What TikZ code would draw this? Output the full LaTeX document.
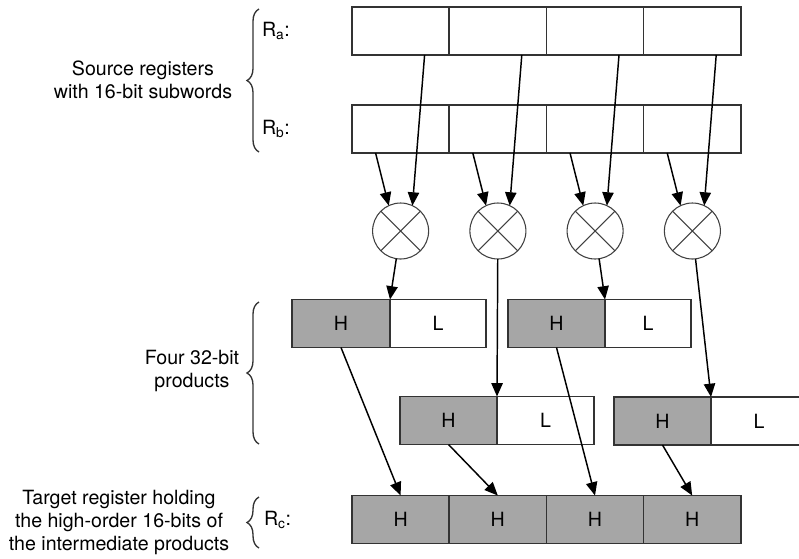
\documentclass[tikz,border=0pt]{standalone}
\usepackage{fontspec}
\setmainfont{TeX Gyre Heros}
\usetikzlibrary{positioning,arrows.meta,decorations.pathreplacing}
\begin{document}
\begin{tikzpicture}[x=0.75pt,y=-0.75pt,every node/.style={inner sep=0pt,outer sep=0pt},font=\fontsize{14.7}{17.25}\selectfont]
\tikzstyle{reg}=[draw=black!80,line width=1.1pt,minimum width=72.9pt,minimum height=36pt]
\tikzstyle{hi}=[reg,fill=black!35]
\tikzstyle{mul}=[draw=black!75,line width=0.8pt,circle,minimum size=42pt]
\tikzstyle{cross}=[draw=black!75,line width=0.8pt]
\tikzstyle{arrow}=[draw,line width=1.1pt,-{Triangle[length=10pt,width=8.5pt]}]
\tikzstyle{brc}=[draw=black!80,line width=1pt,decorate,decoration={brace,amplitude=9pt}]
\useasboundingbox (0,0) rectangle (799,558);

% source registers
\node[reg](ra1) at (400.6,31){};
\node[reg,right=0pt of ra1](ra2){};
\node[reg,right=0pt of ra2](ra3){};
\node[reg,right=0pt of ra3](ra4){};

\node[reg](rb1) at (400.6,129){};
\node[reg,right=0pt of rb1](rb2){};
\node[reg,right=0pt of rb2](rb3){};
\node[reg,right=0pt of rb3](rb4){};

% multipliers
\node[mul](m1) at (400.6,231){};
\node[mul](m2) at (497.9,231){};
\node[mul](m3) at (595.1,231){};
\node[mul](m4) at (692.4,231){};
\path[cross](m1.45)--(m1.225)(m1.135)--(m1.315);
\path[cross](m2.45)--(m2.225)(m2.135)--(m2.315);
\path[cross](m3.45)--(m3.225)(m3.135)--(m3.315);
\path[cross](m4.45)--(m4.225)(m4.135)--(m4.315);

% 32-bit products
\node[hi,minimum width=73.5pt](h1) at (341,323.5){H};
\node[reg,right=0pt of h1,minimum width=72pt](l1){L};
\node[hi,minimum width=72.75pt](h3) at (556.5,323.5){H};
\node[reg,right=0pt of h3,minimum width=64.5pt](l3){L};
\node[hi,minimum width=72.75pt](h2) at (448.5,420.5){H};
\node[reg,right=0pt of h2,minimum width=72.75pt](l2){L};
\node[hi,minimum width=72.75pt](h4) at (662.5,421){H};
\node[reg,right=0pt of h4,minimum width=72pt](l4){L};

% target register
\node[hi](rc1) at (400.6,519.5){H};
\node[hi,right=0pt of rc1](rc2){H};
\node[hi,right=0pt of rc2](rc3){H};
\node[hi,right=0pt of rc3](rc4){H};

\path[arrow]([xshift=-18.75pt]rb1.south)--(m1.115);
\path[arrow]([xshift=18pt]ra1.south)--(m1.65);
\path[arrow]([xshift=-18.75pt]rb2.south)--(m2.115);
\path[arrow]([xshift=18pt]ra2.south)--(m2.65);
\path[arrow]([xshift=-18.75pt]rb3.south)--(m3.115);
\path[arrow]([xshift=18pt]ra3.south)--(m3.65);
\path[arrow]([xshift=-18.75pt]rb4.south)--(m4.115);
\path[arrow]([xshift=18pt]ra4.south)--(m4.65);

\path[arrow](m1)--(h1.north east);
\path[arrow](m2)--(h2.north east);
\path[arrow](m3)--(h3.north east);
\path[arrow](m4)--(h4.north east);

\path[arrow](h1.south)--(rc1.north);
\path[arrow](h2.south)--(rc2.north);
\path[arrow](h3.south)--(rc3.north);
\path[arrow](h4.south)--(rc4.north);

% labels
\node[anchor=west](lra) at (262,31){R\textsubscript{a}:};
\node[anchor=west](lrb) at (262,129){R\textsubscript{b}:};
\node[anchor=west](lrc) at (264,520){R\textsubscript{c}:};
\path[brc](259,152)--(259,9);
\path[brc](259,444)--(259,302);
\path[brc](259,548)--(259,497);
\node[align=center](src) at (143,80){Source registers\\with 16-bit subwords};
\node[align=center](prod) at (192,371){Four 32-bit\\products};
\node[align=center](tgt) at (119,522){Target register holding\\the high-order 16-bits of\\the intermediate products};
\end{tikzpicture}
\end{document}
